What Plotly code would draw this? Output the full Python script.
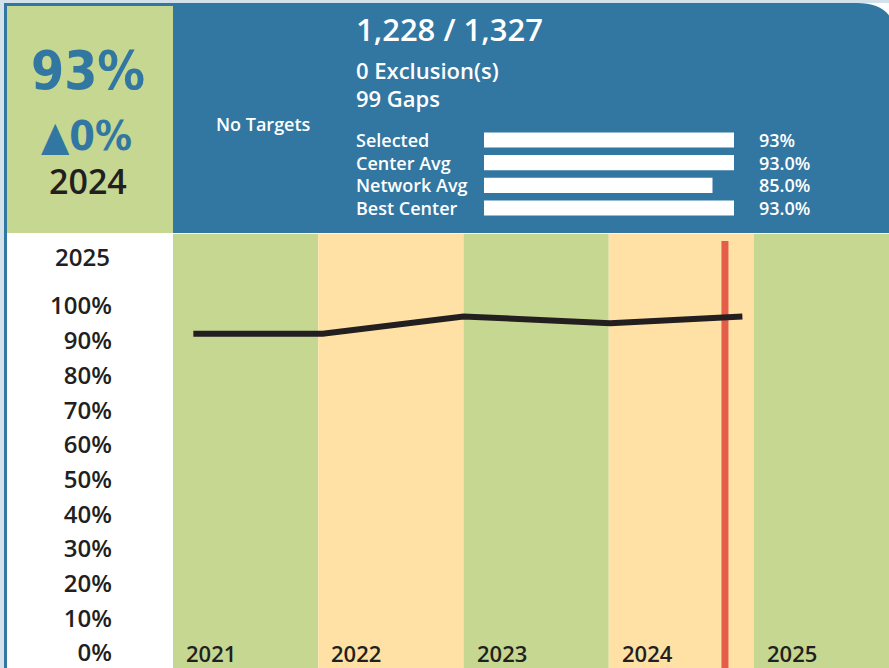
import plotly.graph_objects as go

# ---------------- data ----------------
years = [2021, 2022, 2023, 2024, 2025]
line_x = [2021.14, 2022.03, 2023.00, 2024.01, 2024.92]
line_y = [92, 92, 97, 95, 97]
marker_year = 2024.8
ytick_vals = [0, 10, 20, 30, 40, 50, 60, 70, 80, 90, 100]
ytick_text = [f"{v}%" for v in ytick_vals]
bar_labels = ["Selected", "Center Avg", "Network Avg", "Best Center"]
bar_values = [93, 93, 85, 93]
bar_texts = ["93%", "93.0%", "85.0%", "93.0%"]
kpi_value = "93%"
kpi_change = "▲0%"
kpi_year = "2024"
count_text = "1,228 / 1,327"
exclusions_text = "0 Exclusion(s)"
gaps_text = "99 Gaps"
targets_text = "No Targets"
top_year_label = "2025"

# ---------------- style ----------------
W, H = 889, 668
BLUE = "#3276A2"
GREEN = "#C5D790"
YELLOW = "#FFE1A5"
RED = "#E35D4A"
DARK = "#231F20"
FONT = "Open Sans, Lato, sans-serif"
NARROW = "Liberation Sans Narrow, DejaVu Sans Condensed, sans-serif"


def px(x):
    return x / W


def py(y):
    return 1 - y / H


col_w = 145.25
x_left = 173
y_zero_px, y_100_px = 653, 306
unit = (y_zero_px - y_100_px) / 100.0
chart_top = 234
y_lo = -(H - y_zero_px) / unit
y_hi = (y_zero_px - chart_top) / unit

fig = go.Figure()

# main line
fig.add_trace(go.Scatter(
    x=line_x, y=line_y, mode="lines",
    line=dict(color=DARK, width=6),
    hoverinfo="skip", showlegend=False,
    xaxis="x", yaxis="y",
))

# header bars
fig.add_trace(go.Bar(
    x=bar_values, y=bar_labels, orientation="h",
    marker=dict(color="white", line=dict(width=0)),
    hoverinfo="skip", showlegend=False,
    xaxis="x2", yaxis="y2",
))

shapes = []
# outer light strip + blue border
shapes.append(dict(type="rect", xref="paper", yref="paper", x0=0, x1=1, y0=py(3), y1=1,
                   fillcolor="#D3E1EA", line=dict(width=0), layer="below"))
shapes.append(dict(type="rect", xref="paper", yref="paper", x0=0, x1=px(4), y0=0, y1=1,
                   fillcolor="#D3E1EA", line=dict(width=0), layer="below"))
shapes.append(dict(type="rect", xref="paper", yref="paper", x0=px(4), x1=px(7), y0=0, y1=py(3),
                   fillcolor=BLUE, line=dict(width=0), layer="below"))
shapes.append(dict(type="rect", xref="paper", yref="paper", x0=px(4), x1=px(180), y0=py(6), y1=py(3),
                   fillcolor=BLUE, line=dict(width=0), layer="below"))
# left KPI panel
shapes.append(dict(type="rect", xref="paper", yref="paper", x0=px(7), x1=px(173), y0=py(233), y1=py(6),
                   fillcolor=GREEN, line=dict(width=0), layer="below"))
# header panel with rounded top-right corner
r = 40
path = (f"M {px(173)},{py(3)} L {px(857)},{py(3)} "
        f"Q {px(857 + r)},{py(3)} {px(857 + r)},{py(3 + r)} "
        f"L {px(857 + r)},{py(233)} L {px(173)},{py(233)} Z")
shapes.append(dict(type="path", xref="paper", yref="paper", path=path,
                   fillcolor=BLUE, line=dict(width=0), layer="below"))
# year bands
for i, yr in enumerate(years):
    shapes.append(dict(type="rect", xref="x", yref="paper", x0=yr, x1=yr + 1,
                       y0=0, y1=py(chart_top),
                       fillcolor=GREEN if i % 2 == 0 else YELLOW,
                       line=dict(width=0), layer="below"))
# current-date marker
shapes.append(dict(type="line", xref="x", yref="paper", x0=marker_year, x1=marker_year,
                   y0=0, y1=py(241), line=dict(color=RED, width=7), layer="below"))

annotations = []
# KPI panel texts
annotations.append(dict(text=kpi_value, xref="paper", yref="paper", x=px(88), y=py(70),
                        showarrow=False, xanchor="center", yanchor="middle",
                        font=dict(family=NARROW, size=53, color=BLUE, weight="bold")))
annotations.append(dict(text=kpi_change, xref="paper", yref="paper", x=px(86), y=py(136),
                        showarrow=False, xanchor="center", yanchor="middle",
                        font=dict(family=NARROW, size=41, color=BLUE, weight="bold")))
annotations.append(dict(text=kpi_year, xref="paper", yref="paper", x=px(88), y=py(181),
                        showarrow=False, xanchor="center", yanchor="middle",
                        font=dict(family=FONT, size=34, color=DARK, weight=600)))
# header texts
annotations.append(dict(text=count_text, xref="paper", yref="paper", x=px(354), y=py(29),
                        showarrow=False, xanchor="left", yanchor="middle",
                        font=dict(family=FONT, size=31, color="white", weight=600)))
annotations.append(dict(text=exclusions_text, xref="paper", yref="paper", x=px(354), y=py(70),
                        showarrow=False, xanchor="left", yanchor="middle",
                        font=dict(family=FONT, size=22, color="white", weight=600)))
annotations.append(dict(text=gaps_text, xref="paper", yref="paper", x=px(354), y=py(98),
                        showarrow=False, xanchor="left", yanchor="middle",
                        font=dict(family=FONT, size=22, color="white", weight=600)))
annotations.append(dict(text=targets_text, xref="paper", yref="paper", x=px(263.5), y=py(124),
                        showarrow=False, xanchor="center", yanchor="middle",
                        font=dict(family=FONT, size=18, color="white", weight=600)))
for lab, txt in zip(bar_labels, bar_texts):
    annotations.append(dict(text=lab, xref="paper", yref="y2", x=px(354), y=lab,
                            showarrow=False, xanchor="left", yanchor="middle",
                            font=dict(family=FONT, size=18, color="white", weight=600)))
    annotations.append(dict(text=txt, xref="paper", yref="y2", x=px(757), y=lab,
                            showarrow=False, xanchor="left", yanchor="middle",
                            font=dict(family=FONT, size=18, color="white", weight=600)))
# top-left year
annotations.append(dict(text=top_year_label, xref="paper", yref="paper", x=px(112), y=py(256),
                        showarrow=False, xanchor="right", yanchor="middle",
                        font=dict(family=FONT, size=24, color=DARK, weight=600)))
# year labels in bands
for yr in years:
    annotations.append(dict(text=str(yr), xref="x", yref="y", x=yr, y=0, xshift=11,
                            showarrow=False, xanchor="left", yanchor="middle",
                            font=dict(family=FONT, size=22, color=DARK, weight=600)))

# header bar axes geometry
bar_x0 = 484
bar_px_per_unit = 250 / 93.0
bar_top, bar_bot = 126, 222

fig.update_layout(
    width=W, height=H,
    margin=dict(l=0, r=0, t=0, b=0),
    paper_bgcolor="white", plot_bgcolor="rgba(0,0,0,0)",
    showlegend=False,
    shapes=shapes, annotations=annotations,
    bargap=0.33,
    xaxis=dict(domain=[px(x_left), 1], range=[years[0], years[0] + (W - x_left) / col_w],
               showgrid=False, zeroline=False, showticklabels=False, ticks="",
               showline=False, fixedrange=True),
    yaxis=dict(domain=[0, py(chart_top)], range=[y_lo, y_hi],
               tickvals=ytick_vals, ticktext=ytick_text, ticks="",
               ticklabelstandoff=60, ticklabeloverflow="allow",
               tickfont=dict(family=FONT, size=24, color=DARK, weight=600),
               showgrid=False, zeroline=False, showline=False, fixedrange=True),
    xaxis2=dict(domain=[px(bar_x0), px(bar_x0 + 100 * bar_px_per_unit)], range=[0, 100],
                anchor="y2", showgrid=False, zeroline=False, showticklabels=False,
                showline=False, ticks="", fixedrange=True),
    yaxis2=dict(domain=[py(bar_bot), py(bar_top)], anchor="x2",
                categoryorder="array", categoryarray=bar_labels, autorange="reversed",
                showgrid=False, zeroline=False, showticklabels=False, showline=False,
                ticks="", fixedrange=True),
)

fig.write_html(
    "out.html",
    config={"displayModeBar": False},
    post_script="document.body.style.margin='0';document.body.style.overflow='hidden';",
)
